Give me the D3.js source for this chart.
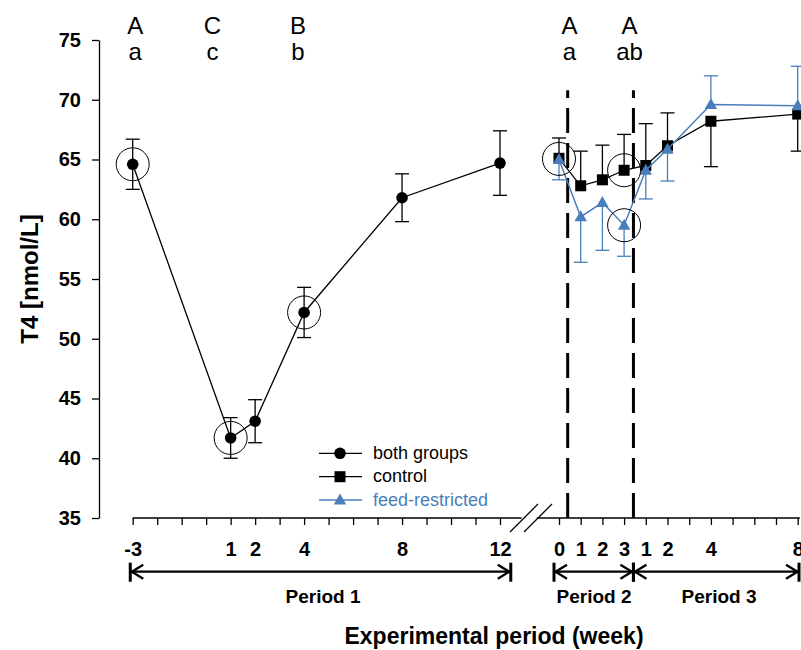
<!DOCTYPE html>
<html>
<head>
<meta charset="utf-8">
<script src="https://cdn.jsdelivr.net/npm/d3@7"></script>
<style>
body { margin: 0; background: #fff; }
svg { display: block; font-family: "Liberation Sans", Arial, sans-serif; }
</style>
</head>
<body>
<script>
// Data
var yTicks = [35, 40, 45, 50, 55, 60, 65, 70, 75];

// Period 1 (both groups)
var weeksP1 = [-3, 1, 2, 4, 8, 12];
var bothMean = [64.6, 41.7, 43.1, 52.2, 61.8, 64.7];
var bothSE = [2.1, 1.7, 1.8, 2.1, 2.0, 2.7];
var circledP1 = [-3, 1, 4];

// Period 2 and 3 (control vs feed-restricted)
var weeksP2 = [0, 1, 2, 3];
var weeksP3 = [1, 2, 4, 8];
var controlMean = [65.1, 62.8, 63.3, 64.1, 64.5, 66.15, 68.2, 68.8];
var controlErr = [1.7, 2.9, 2.9, 3.0, 3.5, 2.75, 3.8, 3.1];
var feedMean = [65.0, 60.2, 61.4, 59.5, 64.1, 65.85, 69.6, 69.5];
var feedErr = [1.7, 3.8, 4.0, 2.6, 2.4, 2.65, 2.4, 3.3];
// +1: control bar up / feed bar down, -1: the other way round
var errSide = [1, 1, 1, 1, 1, 1, -1, -1];

// significance letters
var lettersUpper = ["A", "C", "B", "A", "A"];
var lettersLower = ["a", "c", "b", "a", "ab"];

var width = 801, height = 650;
var blue = "#4a7ebb";

var svg = d3.select("body").append("svg")
    .attr("width", width)
    .attr("height", height);

// scales: one for period 1, one for periods 2+3
var y = d3.scaleLinear().domain([35, 75]).range([518, 40]);
var x1 = d3.scaleLinear().domain([-3, 12]).range([132.7, 500]);
var x2 = d3.scaleLinear().domain([0, 11]).range([559, 797.7]);

// position of right hand points (period 3 week w sits at 3 + w)
var posRight = weeksP2.concat(weeksP3.map(function(w) { return 3 + w; }));

// Y axis
var yAxis = svg.append("g")
    .attr("transform", "translate(99,0)")
    .call(d3.axisLeft(y).tickValues(yTicks).tickSize(7).tickSizeOuter(0).tickPadding(11));
yAxis.attr("font-family", null).attr("font-size", 20).attr("font-weight", "bold");
yAxis.selectAll("line, path").attr("stroke-width", 1.3);

// X axis, period 1 part
var xAxis1 = svg.append("g")
    .attr("transform", "translate(0," + y(35) + ")")
    .call(d3.axisBottom(x1)
        .tickValues(d3.range(-3, 13))
        .tickSize(7)
        .tickPadding(17)
        .tickFormat(function(d) { return weeksP1.indexOf(d) >= 0 ? d : ""; }));
xAxis1.select(".domain").remove();

// X axis, periods 2+3 part
var xAxis2 = svg.append("g")
    .attr("transform", "translate(0," + y(35) + ")")
    .call(d3.axisBottom(x2)
        .tickValues(d3.range(0, 12))
        .tickSize(7)
        .tickPadding(17)
        .tickFormat(function(d) {
            if (d <= 3) return d;
            return weeksP3.indexOf(d - 3) >= 0 ? d - 3 : "";
        }));
xAxis2.select(".domain").remove();

[xAxis1, xAxis2].forEach(function(a) {
    a.attr("font-family", null).attr("font-size", 20).attr("font-weight", "bold");
    a.selectAll("line").attr("stroke-width", 1.3);
});

// axis baselines with the break
svg.append("line")
    .attr("x1", x1(-3)).attr("x2", x1(12.88))
    .attr("y1", y(35)).attr("y2", y(35))
    .attr("stroke", "#000").attr("stroke-width", 1.3);
svg.append("line")
    .attr("x1", x2(-1.02)).attr("x2", x2(11.1))
    .attr("y1", y(35)).attr("y2", y(35))
    .attr("stroke", "#000").attr("stroke-width", 1.3);

// break marks
[0, 14].forEach(function(off) {
    svg.append("line")
        .attr("x1", 510 + off).attr("y1", 532)
        .attr("x2", 538 + off).attr("y2", 504)
        .attr("stroke", "#000").attr("stroke-width", 1.3);
});

// dashed period separators
[0.4, 3.43].forEach(function(p) {
    svg.append("line")
        .attr("x1", x2(p)).attr("x2", x2(p))
        .attr("y1", y(35)).attr("y2", y(70.8))
        .attr("stroke", "#000")
        .attr("stroke-width", 3)
        .attr("stroke-dasharray", "25,10");
});

// helper for error bars
function errBar(g, cx, lo, hi, color, capLo, capHi) {
    g.append("line")
        .attr("x1", cx).attr("x2", cx)
        .attr("y1", y(lo)).attr("y2", y(hi))
        .attr("stroke", color).attr("stroke-width", 1.3);
    if (capLo) g.append("line")
        .attr("x1", cx - 7).attr("x2", cx + 7)
        .attr("y1", y(lo)).attr("y2", y(lo))
        .attr("stroke", color).attr("stroke-width", 1.3);
    if (capHi) g.append("line")
        .attr("x1", cx - 7).attr("x2", cx + 7)
        .attr("y1", y(hi)).attr("y2", y(hi))
        .attr("stroke", color).attr("stroke-width", 1.3);
}

var plot = svg.append("g");

// Period 1: both groups
weeksP1.forEach(function(w, i) {
    errBar(plot, x1(w), bothMean[i] - bothSE[i], bothMean[i] + bothSE[i], "#000", true, true);
});

plot.append("path")
    .datum(weeksP1)
    .attr("fill", "none")
    .attr("stroke", "#000")
    .attr("stroke-width", 1.3)
    .attr("d", d3.line()
        .x(function(d) { return x1(d); })
        .y(function(d, i) { return y(bothMean[i]); }));

plot.selectAll(".dot")
    .data(weeksP1)
    .enter().append("circle")
    .attr("class", "dot")
    .attr("cx", function(d) { return x1(d); })
    .attr("cy", function(d, i) { return y(bothMean[i]); })
    .attr("r", 5.8)
    .attr("fill", "#000");

// Control
posRight.forEach(function(p, i) {
    var m = controlMean[i], e = controlErr[i];
    if (errSide[i] > 0) errBar(plot, x2(p), m, m + e, "#000", false, true);
    else errBar(plot, x2(p), m - e, m, "#000", true, false);
});

plot.append("path")
    .datum(posRight)
    .attr("fill", "none")
    .attr("stroke", "#000")
    .attr("stroke-width", 1.3)
    .attr("d", d3.line()
        .x(function(d) { return x2(d); })
        .y(function(d, i) { return y(controlMean[i]); }));

plot.selectAll(".sq")
    .data(posRight)
    .enter().append("rect")
    .attr("class", "sq")
    .attr("x", function(d) { return x2(d) - 5.5; })
    .attr("y", function(d, i) { return y(controlMean[i]) - 5.5; })
    .attr("width", 11)
    .attr("height", 11)
    .attr("fill", "#000");

// Feed-restricted
posRight.forEach(function(p, i) {
    var m = feedMean[i], e = feedErr[i];
    if (errSide[i] > 0) errBar(plot, x2(p), m - e, m, blue, true, false);
    else errBar(plot, x2(p), m, m + e, blue, false, true);
});

plot.append("path")
    .datum(posRight)
    .attr("fill", "none")
    .attr("stroke", blue)
    .attr("stroke-width", 1.5)
    .attr("d", d3.line()
        .x(function(d) { return x2(d); })
        .y(function(d, i) { return y(feedMean[i]); }));

var tri = "M0,-6.5L6.2,4.5L-6.2,4.5Z";
plot.selectAll(".tri")
    .data(posRight)
    .enter().append("path")
    .attr("class", "tri")
    .attr("d", tri)
    .attr("transform", function(d, i) {
        return "translate(" + x2(d) + "," + y(feedMean[i]) + ")";
    })
    .attr("fill", blue);

// highlight circles
var rings = circledP1.map(function(w) {
    return [x1(w), y(bothMean[weeksP1.indexOf(w)])];
});
rings.push([x2(0), y((controlMean[0] + feedMean[0]) / 2)]);
rings.push([x2(3), y(controlMean[3])]);
rings.push([x2(3), y(feedMean[3])]);

plot.selectAll(".ring")
    .data(rings)
    .enter().append("circle")
    .attr("class", "ring")
    .attr("cx", function(d) { return d[0]; })
    .attr("cy", function(d) { return d[1]; })
    .attr("r", 16.5)
    .attr("fill", "none")
    .attr("stroke", "#000")
    .attr("stroke-width", 1);

// letters above
var letterX = [x1(-2.9), x1(0.26), x1(3.75), x2(0.48), x2(3.25)];
lettersUpper.forEach(function(t, i) {
    svg.append("text")
        .attr("x", letterX[i]).attr("y", 34)
        .attr("text-anchor", "middle")
        .attr("font-size", 24)
        .text(t);
    svg.append("text")
        .attr("x", letterX[i]).attr("y", 60)
        .attr("text-anchor", "middle")
        .attr("font-size", 24)
        .text(lettersLower[i]);
});

// legend
var legend = svg.append("g").attr("transform", "translate(319,453.3)");
var legendItems = [
    {label: "both groups", color: "#000", shape: "circle"},
    {label: "control", color: "#000", shape: "square"},
    {label: "feed-restricted", color: blue, shape: "triangle"}
];
legendItems.forEach(function(d, i) {
    var row = legend.append("g").attr("transform", "translate(0," + (i * 23.4) + ")");
    row.append("line")
        .attr("x1", 0).attr("x2", 43)
        .attr("stroke", d.color)
        .attr("stroke-width", d.shape == "triangle" ? 1.5 : 1.3);
    if (d.shape == "circle") {
        row.append("circle").attr("cx", 21).attr("r", 5.8).attr("fill", d.color);
    } else if (d.shape == "square") {
        row.append("rect").attr("x", 15.5).attr("y", -5.5)
            .attr("width", 11).attr("height", 11).attr("fill", d.color);
    } else {
        row.append("path").attr("d", tri)
            .attr("transform", "translate(21,0)").attr("fill", d.color);
    }
    row.append("text")
        .attr("x", 54).attr("dy", "0.3em")
        .attr("font-size", 18)
        .attr("fill", d.color)
        .text(d.label);
});

// period arrows
var arrowY = 571.7;
function arrow(xa, xb) {
    svg.append("line")
        .attr("x1", xa).attr("x2", xb)
        .attr("y1", arrowY).attr("y2", arrowY)
        .attr("stroke", "#000").attr("stroke-width", 2.3);
    [[xa, 1], [xb, -1]].forEach(function(e) {
        svg.append("path")
            .attr("d", "M" + (e[0] + e[1] * 13) + "," + (arrowY - 7) +
                "L" + (e[0] + e[1] * 1.5) + "," + arrowY +
                "L" + (e[0] + e[1] * 13) + "," + (arrowY + 7))
            .attr("fill", "none")
            .attr("stroke", "#000")
            .attr("stroke-width", 2.3);
        svg.append("line")
            .attr("x1", e[0]).attr("x2", e[0])
            .attr("y1", arrowY - 9).attr("y2", arrowY + 10)
            .attr("stroke", "#000").attr("stroke-width", 3);
    });
}

var periods = [
    {label: "Period 1", a: x1(-3.1), b: x1(12.44), tx: 323},
    {label: "Period 2", a: x2(-0.23), b: x2(3.43), tx: 594},
    {label: "Period 3", a: x2(3.43), b: x2(11.06), tx: 719}
];
periods.forEach(function(p) {
    arrow(p.a, p.b);
    svg.append("text")
        .attr("x", p.tx).attr("y", 603.3)
        .attr("text-anchor", "middle")
        .attr("font-size", 19)
        .attr("font-weight", "bold")
        .text(p.label);
});

// axis titles
svg.append("text")
    .attr("x", 494).attr("y", 644)
    .attr("text-anchor", "middle")
    .attr("font-size", 23)
    .attr("font-weight", "bold")
    .text("Experimental period (week)");

svg.append("text")
    .attr("transform", "translate(38,279) rotate(-90)")
    .attr("text-anchor", "middle")
    .attr("font-size", 24)
    .attr("font-weight", "bold")
    .text("T4 [nmol/L]");
</script>
</body>
</html>
